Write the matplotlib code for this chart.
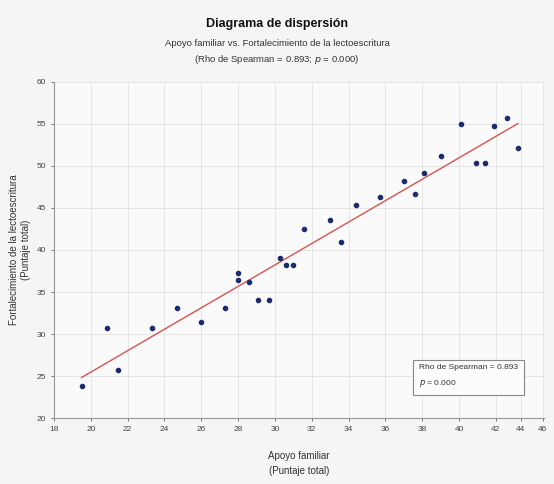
import numpy as np
import matplotlib
matplotlib.use("Agg")
import matplotlib.pyplot as plt

plt.rcParams['font.family'] = ['Liberation Sans', 'DejaVu Sans']

# Apoyo familiar (x) vs Fortalecimiento de la lectoescritura (y)
apoyo = [19.5, 20.9, 21.5, 23.3, 24.7, 26.0, 27.3, 28.0, 28.0, 28.6, 29.1, 29.7,
         30.3, 30.6, 31.0, 31.6, 33.0, 33.6, 34.4, 35.7, 37.0, 37.6, 38.1, 39.0,
         40.1, 40.9, 41.4, 41.9, 42.6, 43.2]
lecto = [23.8, 30.75, 25.7, 30.7, 33.1, 31.4, 33.1, 37.3, 36.4, 36.2, 34.0, 34.0,
         39.1, 38.2, 38.2, 42.5, 43.6, 40.9, 45.3, 46.3, 48.2, 46.6, 49.1, 51.2,
         55.0, 50.4, 50.4, 54.8, 55.7, 52.1]

xticks = [18, 20, 22, 24, 26, 28, 30, 32, 34, 36, 38, 40, 42, 43.35, 44.55]
xticklabels = ['18', '20', '22', '24', '26', '28', '30', '32', '34', '36', '38', '40', '42', '44', '46']
yticks = [20, 25, 30, 35, 40, 45, 50, 55, 60]

rho = 0.893
pval = 0.000

fig = plt.figure(figsize=(5.54, 4.84), dpi=100, facecolor='#f5f5f5')
ax = fig.add_axes([0.0975, 0.136, 0.884, 0.695])
ax.set_facecolor('#fafafa')

x = np.array(apoyo)
y = np.array(lecto)
m, b = np.polyfit(x, y, 1)
xl = np.array([x.min(), x.max()])
ax.plot(xl, m * xl + b, color='#d9534f', lw=1.0, zorder=2)
ax.scatter(x, y, s=9, color='#1c2a6e', zorder=3)

ax.set_xlim(18, 44.6)
ax.set_ylim(20, 60)
ax.set_xticks(xticks)
ax.set_xticklabels(xticklabels)
ax.set_yticks(yticks)
ax.tick_params(labelsize=6, colors='#444444', length=2, width=0.5)
ax.grid(True, color='#e3e3e3', lw=0.6)
for s in ['top', 'right']:
    ax.spines[s].set_visible(False)
for s in ['left', 'bottom']:
    ax.spines[s].set_color('#999999')
    ax.spines[s].set_linewidth(0.8)

ax.set_xlabel('Apoyo familiar\n(Puntaje total)', fontsize=7, color='#333333',
              labelpad=13, linespacing=1.6)
ax.set_ylabel('Fortalecimiento de la lectoescritura\n(Puntaje total)', fontsize=7,
              color='#333333', linespacing=1.2)
ax.yaxis.set_label_coords(-0.048, 0.5)

fig.text(0.5, 0.945, 'Diagrama de dispersión', ha='center', fontsize=9,
         fontweight='bold', color='#111111')
fig.text(0.5, 0.905, 'Apoyo familiar vs. Fortalecimiento de la lectoescritura',
         ha='center', fontsize=6.8, color='#333333')
fig.text(0.5, 0.871, '(Rho de Spearman = %.3f; $p$ = %.3f)' % (rho, pval),
         ha='center', fontsize=6.8, color='#333333')

ax.text(0.745, 0.124, 'Rho de Spearman = %.3f\n$p$ = %.3f' % (rho, pval),
        transform=ax.transAxes, fontsize=6, color='#333333', va='center',
        linespacing=2.0,
        bbox=dict(boxstyle='square,pad=0.7', fc='#fcfcfc', ec='#888888', lw=0.8))

fig.savefig('out.png', dpi=100, facecolor=fig.get_facecolor())
